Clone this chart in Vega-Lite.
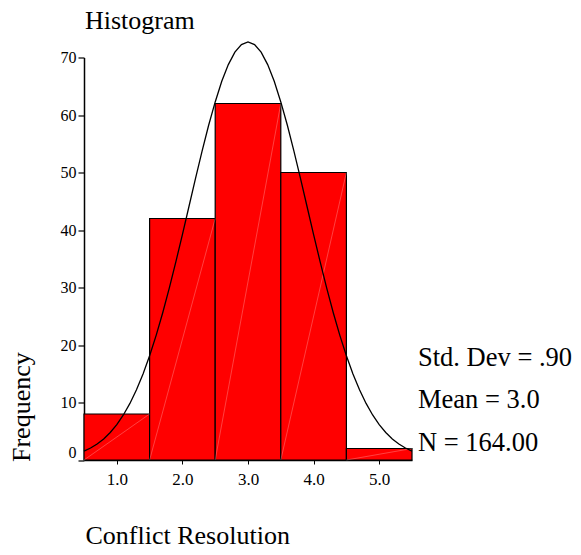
{
  "$schema": "https://vega.github.io/schema/vega-lite/v6.json",
  "autosize": "none",
  "width": 328,
  "height": 402.5,
  "padding": {"left": 84, "top": 57.5, "right": 169, "bottom": 95},
  "background": "white",
  "config": {
    "font": "Liberation Serif",
    "view": {"stroke": null},
    "axis": {"grid": false, "domainColor": "black", "tickColor": "black", "labelColor": "black", "titleColor": "black", "labelFont": "Liberation Serif", "titleFont": "Liberation Serif", "titleFontWeight": "normal"}
  },
  "title": {"text": "Histogram", "anchor": "start", "frame": "group", "fontSize": 26, "fontWeight": "normal", "font": "Liberation Serif", "color": "black", "baseline": "alphabetic", "offset": 13, "dx": 1, "dy": 29},
  "datasets": {
    "bars": [
      {"start": 0.5, "end": 1.5, "count": 8},
      {"start": 1.5, "end": 2.5, "count": 42},
      {"start": 2.5, "end": 3.5, "count": 62},
      {"start": 3.5, "end": 4.5, "count": 50},
      {"start": 4.5, "end": 5.5, "count": 2}
    ],
    "curve": [
      {"x": 0.5, "y": 1.53}, {"x": 0.6, "y": 2.08}, {"x": 0.7, "y": 2.78}, {"x": 0.8, "y": 3.66}, {"x": 0.9, "y": 4.78},
      {"x": 1.0, "y": 6.15}, {"x": 1.1, "y": 7.83}, {"x": 1.2, "y": 9.84}, {"x": 1.3, "y": 12.21}, {"x": 1.4, "y": 14.97},
      {"x": 1.5, "y": 18.13}, {"x": 1.6, "y": 21.68}, {"x": 1.7, "y": 25.61}, {"x": 1.8, "y": 29.89}, {"x": 1.9, "y": 34.45},
      {"x": 2.0, "y": 39.21}, {"x": 2.1, "y": 44.09}, {"x": 2.2, "y": 48.97}, {"x": 2.3, "y": 53.72}, {"x": 2.4, "y": 58.22},
      {"x": 2.5, "y": 62.27}, {"x": 2.6, "y": 65.86}, {"x": 2.7, "y": 68.77}, {"x": 2.8, "y": 70.93}, {"x": 2.9, "y": 72.25},
      {"x": 3.0, "y": 72.7},
      {"x": 3.1, "y": 72.25}, {"x": 3.2, "y": 70.93}, {"x": 3.3, "y": 68.77}, {"x": 3.4, "y": 65.86}, {"x": 3.5, "y": 62.27},
      {"x": 3.6, "y": 58.22}, {"x": 3.7, "y": 53.72}, {"x": 3.8, "y": 48.97}, {"x": 3.9, "y": 44.09}, {"x": 4.0, "y": 39.21},
      {"x": 4.1, "y": 34.45}, {"x": 4.2, "y": 29.89}, {"x": 4.3, "y": 25.61}, {"x": 4.4, "y": 21.68}, {"x": 4.5, "y": 18.13},
      {"x": 4.6, "y": 14.97}, {"x": 4.7, "y": 12.21}, {"x": 4.8, "y": 9.84}, {"x": 4.9, "y": 7.83}, {"x": 5.0, "y": 6.15},
      {"x": 5.1, "y": 4.78}, {"x": 5.2, "y": 3.66}, {"x": 5.3, "y": 2.78}, {"x": 5.4, "y": 2.08}, {"x": 5.5, "y": 1.53}
    ],
    "stats": [
      {"lines": ["Std. Dev = .90", "Mean = 3.0", "N = 164.00"]}
    ]
  },
  "layer": [
    {
      "data": {"name": "bars"},
      "mark": {"type": "bar", "fill": "#ff0000", "stroke": "black", "strokeWidth": 1.2},
      "encoding": {
        "x": {"field": "start", "type": "quantitative",
              "scale": {"domain": [0.5, 5.5], "nice": false, "zero": false},
              "axis": {"values": [1, 2, 3, 4, 5], "format": ".1f", "labelFontSize": 17, "labelPadding": 7, "tickSize": 4, "domainWidth": 1.5, "tickWidth": 1,
                       "title": "Conflict Resolution", "titleFontSize": 26, "titleAnchor": "start", "titleAlign": "left", "titleBaseline": "alphabetic", "titleX": 1, "titleY": 83}},
        "x2": {"field": "end"},
        "y": {"field": "count", "type": "quantitative",
              "scale": {"domain": [0, 70], "nice": false},
              "axis": {"values": [0, 10, 20, 30, 40, 50, 60, 70], "labelFontSize": 16, "labelPadding": 2, "tickSize": 6, "domainWidth": 1.5, "tickWidth": 1.2,
                       "labelOffset": {"condition": {"test": "datum.value === 0", "value": -8}, "value": 0},
                       "title": "Frequency", "titleFontSize": 26, "titleAnchor": "start", "titleAlign": "left", "titleAngle": 270, "titleBaseline": "alphabetic", "titleX": -55, "titleY": 404}},
        "y2": {"datum": 0}
      }
    },
    {
      "data": {"name": "bars"},
      "mark": {"type": "rule", "color": "white", "strokeWidth": 0.5, "opacity": 0.5},
      "encoding": {
        "x": {"field": "end", "type": "quantitative"},
        "x2": {"field": "start"},
        "y": {"field": "count", "type": "quantitative"},
        "y2": {"datum": 0}
      }
    },
    {
      "data": {"name": "curve"},
      "mark": {"type": "line", "color": "black", "strokeWidth": 1.3, "clip": false},
      "encoding": {
        "x": {"field": "x", "type": "quantitative"},
        "y": {"field": "y", "type": "quantitative"}
      }
    },
    {
      "data": {"name": "stats"},
      "mark": {"type": "text", "align": "left", "baseline": "middle", "fontSize": 26.5, "font": "Liberation Serif", "color": "black", "lineHeight": 42.5, "dx": 6},
      "encoding": {
        "x": {"datum": 5.5, "type": "quantitative"},
        "y": {"datum": 17.74, "type": "quantitative"},
        "text": {"field": "lines"}
      }
    }
  ]
}
